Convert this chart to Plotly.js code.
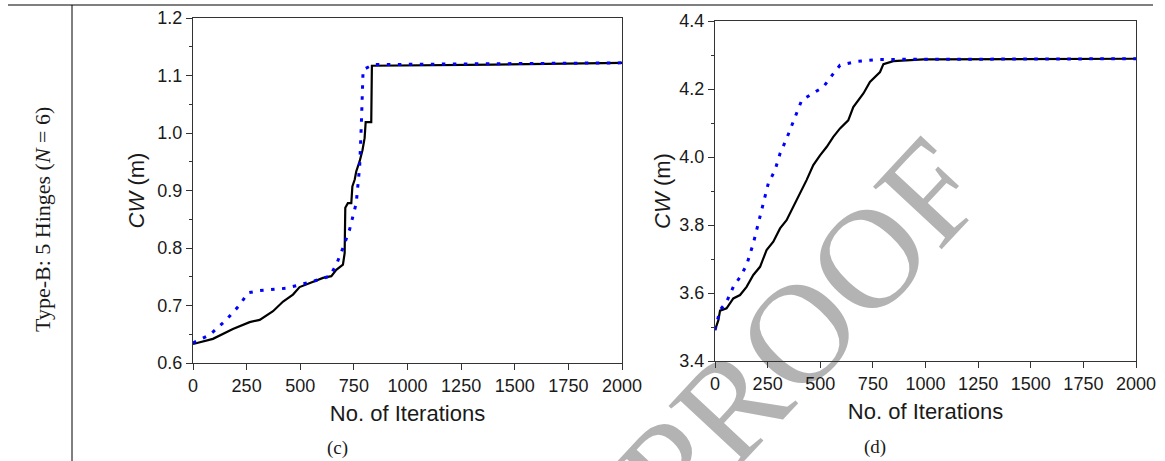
<!DOCTYPE html>
<html>
<head>
<meta charset="utf-8">
<script src="https://cdn.plot.ly/plotly-3.0.1.min.js"></script>
<style>
  html, body { margin: 0; padding: 0; background: #ffffff; }
  #wrap { position: relative; width: 1165px; height: 461px; overflow: hidden; }
  #wm { position: absolute; left: 801px; top: 330px; transform: translate(-50%, -50%) rotate(-47deg);
        font-family: "Liberation Serif", "DejaVu Serif", serif; font-size: 142px; line-height: 1;
        color: #b3b3b3; white-space: nowrap; z-index: 0; }
  #chart { position: absolute; left: 0; top: 0; z-index: 1; }
</style>
</head>
<body>
<div id="wrap">
  <div id="wm">PROOF</div>
  <div id="chart"></div>
</div>
<script>
// Panel (c)
const cBlackX = [0, 93, 186, 264, 311, 373, 420, 466, 497, 544, 606, 645, 668, 699, 707, 710, 722, 738, 743, 754, 761, 777, 790, 800, 805, 831, 834, 1399, 2000];
const cBlackY = [0.633, 0.642, 0.659, 0.671, 0.675, 0.690, 0.707, 0.719, 0.732, 0.739, 0.748, 0.751, 0.762, 0.771, 0.791, 0.870, 0.878, 0.878, 0.907, 0.919, 0.933, 0.951, 0.970, 0.991, 1.019, 1.019, 1.117, 1.119, 1.122];
const cBlueX = [0, 78, 155, 218, 256, 311, 435, 559, 637, 668, 699, 730, 761, 777, 785, 793, 839, 2000];
const cBlueY = [0.635, 0.649, 0.675, 0.701, 0.722, 0.726, 0.730, 0.742, 0.751, 0.771, 0.800, 0.832, 0.878, 0.942, 1.017, 1.110, 1.119, 1.122];
// Panel (d)
const dBlackX = [0, 16, 24, 55, 87, 119, 150, 182, 214, 245, 277, 309, 340, 372, 404, 435, 467, 499, 531, 562, 594, 633, 657, 705, 736, 784, 800, 847, 990, 2000];
const dBlackY = [3.491, 3.520, 3.548, 3.555, 3.584, 3.594, 3.618, 3.653, 3.677, 3.726, 3.751, 3.790, 3.814, 3.853, 3.893, 3.932, 3.976, 4.005, 4.030, 4.059, 4.084, 4.108, 4.147, 4.187, 4.221, 4.250, 4.273, 4.282, 4.287, 4.289];
const dBlueX = [0, 24, 55, 87, 119, 150, 182, 206, 230, 253, 285, 309, 340, 372, 412, 451, 515, 562, 594, 673, 784, 2000];
const dBlueY = [3.491, 3.550, 3.574, 3.618, 3.647, 3.682, 3.746, 3.805, 3.873, 3.922, 3.961, 4.010, 4.054, 4.103, 4.167, 4.182, 4.206, 4.245, 4.270, 4.281, 4.287, 4.289];

const xTickVals = [0, 250, 500, 750, 1000, 1250, 1500, 1750, 2000];
const rowLabel = "Type-B: 5 Hinges (<i>N</i> = 6)";
const panelLabels = ["(c)", "(d)"];
const xTitle = "No. of Iterations";
const yTitle = "<i>CW</i> (m)";

const W = 1165, H = 461;
const px = v => v / W;
const py = v => 1 - v / H;

const blackLine = {color: '#000000', width: 2.2};
const blueLine = {color: '#0000ff', width: 3, dash: '3.5px,7.5px'};

const traces = [
  {x: cBlackX, y: cBlackY, xaxis: 'x', yaxis: 'y', mode: 'lines', line: blackLine, hoverinfo: 'skip'},
  {x: cBlueX, y: cBlueY, xaxis: 'x', yaxis: 'y', mode: 'lines', line: blueLine, hoverinfo: 'skip'},
  {x: dBlackX, y: dBlackY, xaxis: 'x2', yaxis: 'y2', mode: 'lines', line: blackLine, hoverinfo: 'skip'},
  {x: dBlueX, y: dBlueY, xaxis: 'x2', yaxis: 'y2', mode: 'lines', line: blueLine, hoverinfo: 'skip'}
];

const tickFont = {family: 'Liberation Sans, Arial, sans-serif', size: 18, color: '#1a1a1a'};
const titleFont = {family: 'Liberation Sans, Arial, sans-serif', size: 22, color: '#1a1a1a'};

function xAxis(domain, anchor) {
  return {
    domain: domain, anchor: anchor, range: [0, 2000], tickvals: xTickVals,
    ticks: 'outside', ticklen: 6, tickwidth: 1, tickcolor: '#333',
    showline: true, linecolor: '#333', linewidth: 1.2, mirror: true,
    showgrid: false, zeroline: false, tickfont: tickFont,
    title: {text: xTitle, font: titleFont, standoff: 10}
  };
}
function yAxis(domain, anchor, range, dtick, minorDtick, standoff) {
  return {
    domain: domain, anchor: anchor, range: range, dtick: dtick, tick0: range[0],
    tickformat: '.1f',
    ticks: 'outside', ticklen: 6, tickwidth: 1, tickcolor: '#333',
    minor: {dtick: minorDtick, ticks: 'outside', ticklen: 3, tickwidth: 1, tickcolor: '#333', showgrid: false},
    showline: true, linecolor: '#333', linewidth: 1.2, mirror: true,
    showgrid: false, zeroline: false, tickfont: tickFont,
    title: {text: yTitle, font: titleFont, standoff: standoff}
  };
}

const layout = {
  width: W, height: H,
  margin: {l: 0, r: 0, t: 0, b: 0},
  paper_bgcolor: 'rgba(0,0,0,0)', plot_bgcolor: 'rgba(0,0,0,0)',
  showlegend: false,
  xaxis: xAxis([px(193), px(622)], 'y'),
  yaxis: yAxis([py(363), py(18)], 'x', [0.6, 1.2], 0.1, 0.05, 6),
  xaxis2: xAxis([px(715), px(1136)], 'y2'),
  yaxis2: yAxis([py(361), py(21)], 'x2', [3.4, 4.4], 0.2, 0.1, 2),
  shapes: [
    {type: 'line', xref: 'paper', yref: 'paper', x0: px(8), x1: px(1153), y0: py(5), y1: py(5), line: {color: '#000', width: 1}},
    {type: 'line', xref: 'paper', yref: 'paper', x0: px(72), x1: px(72), y0: py(5), y1: 0, line: {color: '#000', width: 1}}
  ],
  annotations: [
    {xref: 'paper', yref: 'paper', x: px(43), y: py(220), text: rowLabel, textangle: -90, showarrow: false,
     xanchor: 'center', yanchor: 'middle', font: {family: 'Liberation Serif, serif', size: 22, color: '#1a1a1a'}},
    {xref: 'paper', yref: 'paper', x: px(337), y: py(448), text: panelLabels[0], showarrow: false,
     xanchor: 'center', yanchor: 'middle', font: {family: 'Liberation Serif, serif', size: 19, color: '#1a1a1a'}},
    {xref: 'paper', yref: 'paper', x: px(875), y: py(447), text: panelLabels[1], showarrow: false,
     xanchor: 'center', yanchor: 'middle', font: {family: 'Liberation Serif, serif', size: 19, color: '#1a1a1a'}}
  ]
};

Plotly.newPlot('chart', traces, layout, {staticPlot: true, displayModeBar: false});
</script>
</body>
</html>
